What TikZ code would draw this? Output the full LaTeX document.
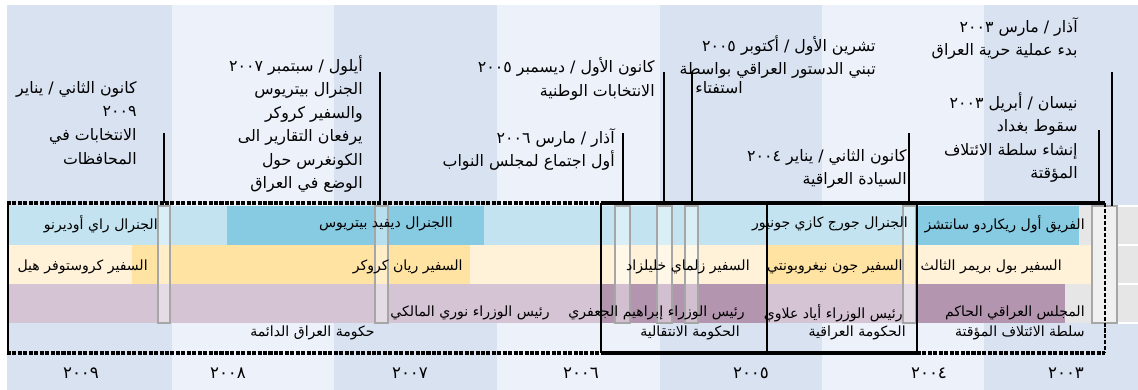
\documentclass[tikz,border=0pt]{standalone}
\usepackage{fontspec}
\newfontfamily\arabicfont[Script=Arabic]{DejaVu Sans}
\TeXXeTstate=1
\usetikzlibrary{positioning}

\definecolor{stripedark}{RGB}{217,226,241}
\definecolor{stripelight}{RGB}{237,241,249}
\definecolor{genlight}{RGB}{194,227,239}
\definecolor{gendark}{RGB}{135,203,227}
\definecolor{amblight}{RGB}{255,242,217}
\definecolor{ambdark}{RGB}{255,227,163}
\definecolor{pmlight}{RGB}{213,196,212}
\definecolor{pmdark}{RGB}{180,149,176}
\definecolor{offgrey}{RGB}{230,230,230}

\newcommand{\ar}[1]{\beginR #1\endR}

\tikzset{
  evtext/.style={font=\arabicfont\fontsize{9}{13.4}\selectfont, align=right, inner sep=0pt, anchor=north east},
  rowtext/.style={font=\arabicfont\fontsize{8}{10}\selectfont, inner sep=0pt, anchor=east},
  yeartext/.style={font=\arabicfont\fontsize{9.5}{10}\selectfont, inner sep=0pt},
  evline/.style={line width=1.2pt},
  band/.style={fill=white, fill opacity=0.4, draw=gray!70, line width=0.6pt},
  heavydash/.style={line width=2.3pt, dash pattern=on 2.3pt off 0.8pt},
  lightdash/.style={line width=1pt, dash pattern=on 2.3pt off 1.1pt},
  heavyline/.style={line width=2.3pt},
  boxline/.style={line width=0.7pt}
}

\begin{document}
\begin{tikzpicture}[x=0.2mm, y=-0.2mm]
  \useasboundingbox (0,0) rectangle (1138,390);
  \fill[white] (0,0) rectangle (1138,390);

  % year stripes
  \foreach \xa/\xb/\c in {7/172/stripedark, 172/334/stripelight, 334/497/stripedark,
      497/660/stripelight, 660/822/stripedark, 822/984/stripelight, 984/1138/stripedark}
    \fill[\c] (\xa,5) rectangle (\xb,390);

  % generals
  \foreach \xa/\xb/\c in {8/227/genlight, 227/484/gendark, 484/917/genlight,
      917/1079/gendark, 1079/1138/offgrey}
    \fill[\c] (\xa,206) rectangle (\xb,245);
  % ambassadors
  \foreach \xa/\xb/\c in {8/132/amblight, 132/470/ambdark, 470/767/amblight,
      767/917/ambdark, 917/1092/amblight, 1092/1138/offgrey}
    \fill[\c] (\xa,245) rectangle (\xb,284);
  % prime ministers
  \foreach \xa/\xb/\c in {8/601/pmlight, 601/767/pmdark, 767/917/pmlight,
      917/1065/pmdark, 1065/1138/offgrey}
    \fill[\c] (\xa,284) rectangle (\xb,323);
  \foreach \yy in {206,245,284,323}
    \draw[white, line width=1pt] (1117,\yy) -- (1138,\yy);

  % hand-over bands
  \foreach \xa/\xb in {158/170, 375/388, 615/630, 657/672, 685/698, 903/916, 1092/1117}
    \draw[band] (\xa,206) rectangle (\xb,323);

  % frame
  \coordinate (fnw) at (7,203);
  \coordinate (ftm) at (601,203);
  \coordinate (fne) at (1105,203);
  \coordinate (fsw) at (7,353);
  \coordinate (fsm) at (601,353);
  \coordinate (fsr) at (917,353);
  \coordinate (fse) at (1105,353);
  \coordinate (gmid) at (767,203);
  \coordinate (gmidb) at (767,353);
  \coordinate (gend) at (917,203);

  \draw[boxline] (8,203) -- (8,353);
  \draw[boxline] (ftm) -- (fsm);
  \draw[boxline] (gmid) -- (gmidb);
  \draw[boxline] (gend) -- (fsr);
  \draw[lightdash] (fne) -- (fse);
  \draw[heavydash] (fnw) -- (ftm);
  \draw[heavyline] (ftm) -- (fne);
  \draw[heavydash] (fsw) -- (fsm);
  \draw[heavyline] (fsm) -- (fsr);
  \draw[heavydash] (fsr) -- (fse);

  % events
  \node[evtext] (jan09) at (137,81) {\ar{كانون الثاني / يناير}\\\ar{٢٠٠٩}\\\ar{الانتخابات في}\\\ar{المحافظات}};
  \node[evtext] (sep07) at (363,55) {\ar{أيلول / سبتمبر ٢٠٠٧}\\\ar{الجنرال بيتريوس}\\\ar{والسفير كروكر}\\\ar{يرفعان التقارير الى}\\\ar{الكونغرس حول}\\\ar{الوضع في العراق}};
  \node[evtext] (dec05) at (655,57) {\ar{كانون الأول / ديسمبر ٢٠٠٥}\\\ar{الانتخابات الوطنية}};
  \node[evtext] (mar06) at (615,128) {\ar{آذار / مارس ٢٠٠٦}\\\ar{أول اجتماع لمجلس النواب}};
  \node[evtext] (oct05) at (876,35) {\ar{تشرين الأول / أكتوبر ٢٠٠٥}\\\ar{تبني الدستور العراقي بواسطة}};
  \node[evtext, anchor=north west] (oct05c) at (695,81) {\ar{استفتاء}};
  \node[evtext] (jan04) at (907,149) {\ar{كانون الثاني / يناير ٢٠٠٤}\\\ar{السيادة العراقية}};
  \node[evtext] (mar03) at (1078,17) {\ar{آذار / مارس ٢٠٠٣}\\\ar{بدء عملية حرية العراق}};
  \node[evtext] (apr03) at (1078,92) {\ar{نيسان / أبريل ٢٠٠٣}\\\ar{سقوط بغداد}\\\ar{إنشاء سلطة الائتلاف}\\\ar{المؤقتة}};

  \foreach \nm/\xx/\yt in {jan09/164/133, sep07/380/72, mar06/623/133, dec05/664/72,
      oct05/692/72, jan04/909/133, apr03/1099/130}{
    \coordinate (\nm top) at (\xx,\yt);
    \coordinate (\nm foot) at (\xx,203);
    \draw[evline] (\nm top) -- (\nm foot);
  }
  \coordinate (mar03top) at (1112,72);
  \coordinate (mar03foot) at (1112,206);
  \draw[evline] (mar03top) -- (mar03foot);

  % row labels
  \node[rowtext] (odierno) at (158,224) {\ar{الجنرال راي أوديرنو}};
  \node[rowtext] (petraeus) at (453,224) {\ar{االجنرال ديفيد بيتريوس}};
  \node[rowtext] (casey) at (908,224) {\ar{الجنرال جورج كازي جونيور}};
  \node[rowtext] (sanchez) at (1085,224) {\ar{الفريق أول ريكاردو سانتشز}};

  \node[rowtext] (hill) at (148,267) {\ar{السفير كروستوفر هيل}};
  \node[rowtext] (crocker) at (463,267) {\ar{السفير ريان كروكر}};
  \node[rowtext] (khalilzad) at (750,267) {\ar{السفير زلماي خليلزاد}};
  \node[rowtext] (negroponte) at (903,267) {\ar{السفير جون نيغروبونتي}};
  \node[rowtext] (bremer) at (1062,267) {\ar{السفير بول بريمر الثالث}};

  \node[rowtext] (maliki) at (550,313) {\ar{رئيس الوزراء نوري المالكي}};
  \node[rowtext] (jaafari) at (745,313) {\ar{رئيس الوزراء إبراهيم الجعفري}};
  \node[rowtext] (allawi) at (903,313) {\ar{رئيس الوزراء أياد علاوي}};
  \node[rowtext] (council) at (1085,313) {\ar{المجلس العراقي الحاكم}};

  \node[rowtext] (permgov) at (375,333) {\ar{حكومة العراق الدائمة}};
  \node[rowtext] (transgov) at (740,333) {\ar{الحكومة الانتقالية}};
  \node[rowtext] (iraqgov) at (906,333) {\ar{الحكومة العراقية}};
  \node[rowtext] (cpa) at (1085,333) {\ar{سلطة الائتلاف المؤقتة}};

  % years
  \foreach \nm/\xx/\yr in {y09/81/٢٠٠٩, y08/228/٢٠٠٨, y07/410/٢٠٠٧, y06/581/٢٠٠٦,
      y05/751/٢٠٠٥, y04/929/٢٠٠٤, y03/1066/٢٠٠٣}
    \node[yeartext] (\nm) at (\xx,373) {\ar{\yr}};
\end{tikzpicture}
\end{document}
